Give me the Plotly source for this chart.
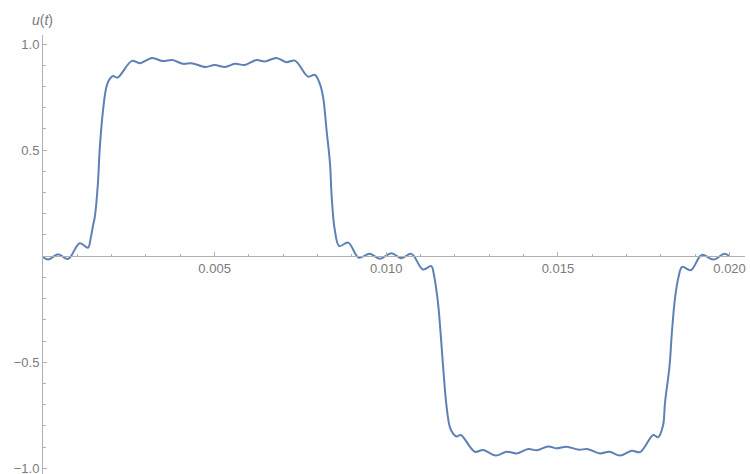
import plotly.graph_objects as go

t_vals = [
    0.00000, 0.00015, 0.00044, 0.00073, 0.00107, 0.00131, 0.00139, 0.00146,
    0.00151, 0.00160, 0.00165, 0.00175, 0.00185, 0.00194, 0.00204, 0.00217,
    0.00259, 0.00282, 0.00318, 0.00348, 0.00377, 0.00408, 0.00432, 0.00474,
    0.00500, 0.00530, 0.00559, 0.00588, 0.00622, 0.00646, 0.00680, 0.00709,
    0.00734, 0.00772, 0.00792, 0.00806, 0.00816, 0.00826, 0.00836, 0.00841,
    0.00850, 0.00863, 0.00889, 0.00920, 0.00952, 0.00981, 0.01015, 0.01044,
    0.01073, 0.01107, 0.01131, 0.01139, 0.01146, 0.01152, 0.01160, 0.01166,
    0.01175, 0.01185, 0.01195, 0.01205, 0.01217, 0.01258, 0.01282, 0.01319,
    0.01351, 0.01380, 0.01414, 0.01438, 0.01472, 0.01496, 0.01525, 0.01559,
    0.01588, 0.01623, 0.01650, 0.01681, 0.01715, 0.01739, 0.01778, 0.01792,
    0.01806, 0.01812, 0.01825, 0.01832, 0.01841, 0.01851, 0.01862, 0.01887,
    0.01919, 0.01953, 0.01985, 0.02000,
]
u_vals = [
    -0.004, -0.016, 0.009, -0.013, 0.061, 0.040, 0.086, 0.147,
    0.186, 0.344, 0.500, 0.690, 0.800, 0.835, 0.850, 0.842,
    0.921, 0.910, 0.935, 0.920, 0.925, 0.907, 0.910, 0.892,
    0.902, 0.892, 0.907, 0.902, 0.925, 0.918, 0.935, 0.915,
    0.922, 0.847, 0.855, 0.815, 0.750, 0.595, 0.438, 0.280,
    0.124, 0.048, 0.064, -0.007, 0.012, -0.012, 0.014, -0.010,
    0.011, -0.063, -0.047, -0.090, -0.160, -0.240, -0.400, -0.530,
    -0.700, -0.805, -0.838, -0.850, -0.843, -0.922, -0.914, -0.940,
    -0.922, -0.930, -0.909, -0.915, -0.897, -0.906, -0.898, -0.912,
    -0.910, -0.930, -0.922, -0.940, -0.917, -0.924, -0.843, -0.854,
    -0.800, -0.690, -0.520, -0.360, -0.200, -0.100, -0.050, -0.066,
    0.006, -0.016, 0.011, 0.000,
]

x_tickvals = [0.005, 0.010, 0.015, 0.020]
x_ticktext = ["0.005", "0.010", "0.015", "0.020"]
y_tickvals = [-1.0, -0.5, 0.5, 1.0]
y_ticktext = ["\u22121.0", "\u22120.5", "0.5", "1.0"]

x_range = [0.0, 0.02045]
y_range = [-1.027, 1.043]

axis_color = "#b0b0b0"
label_color = "#7a7a7a"
font_family = "Liberation Sans, Arial, sans-serif"

fig = go.Figure()
fig.add_trace(go.Scatter(
    x=t_vals, y=u_vals, mode="lines",
    line=dict(color="#5E81B5", width=2, shape="spline", smoothing=1.0),
    hoverinfo="skip", showlegend=False,
))

zero_pos = (0 - y_range[0]) / (y_range[1] - y_range[0])

fig.update_layout(
    width=750, height=474,
    margin=dict(l=43, r=5, t=35, b=0, autoexpand=False),
    paper_bgcolor="white", plot_bgcolor="white",
    font=dict(family=font_family, size=13, color=label_color),
    xaxis=dict(
        range=x_range, anchor="free", position=zero_pos, side="bottom",
        automargin=False, ticklabeloverflow="allow",
        showline=True, linecolor=axis_color, linewidth=1,
        showgrid=False, zeroline=False,
        tickmode="array", tickvals=x_tickvals, ticktext=x_ticktext,
        ticks="inside", ticklen=4, tickcolor=axis_color, tickwidth=1,
        minor=dict(dtick=0.001, tick0=0, ticks="inside", ticklen=2.5,
                   tickcolor=axis_color, showgrid=False),
        tickfont=dict(size=13, color=label_color),
    ),
    yaxis=dict(
        range=y_range, automargin=False, ticklabeloverflow="allow",
        showline=True, linecolor=axis_color, linewidth=1,
        showgrid=False, zeroline=False,
        tickmode="array", tickvals=y_tickvals, ticktext=y_ticktext,
        ticks="inside", ticklen=4, tickcolor=axis_color, tickwidth=1,
        minor=dict(dtick=0.1, tick0=0, ticks="inside", ticklen=2.5,
                   tickcolor=axis_color, showgrid=False),
        tickfont=dict(size=13, color=label_color),
    ),
    annotations=[dict(
        text="<i>u</i>(<i>t</i>)", xref="paper", yref="paper",
        x=0, y=1, xanchor="center", yanchor="middle", yshift=15, xshift=-1,
        showarrow=False, font=dict(size=14, color=label_color, family=font_family),
    )],
)

fig.write_html(
    "out.html",
    config={"displayModeBar": False},
    post_script="document.body.style.margin='0px';document.body.style.overflow='hidden';",
)
